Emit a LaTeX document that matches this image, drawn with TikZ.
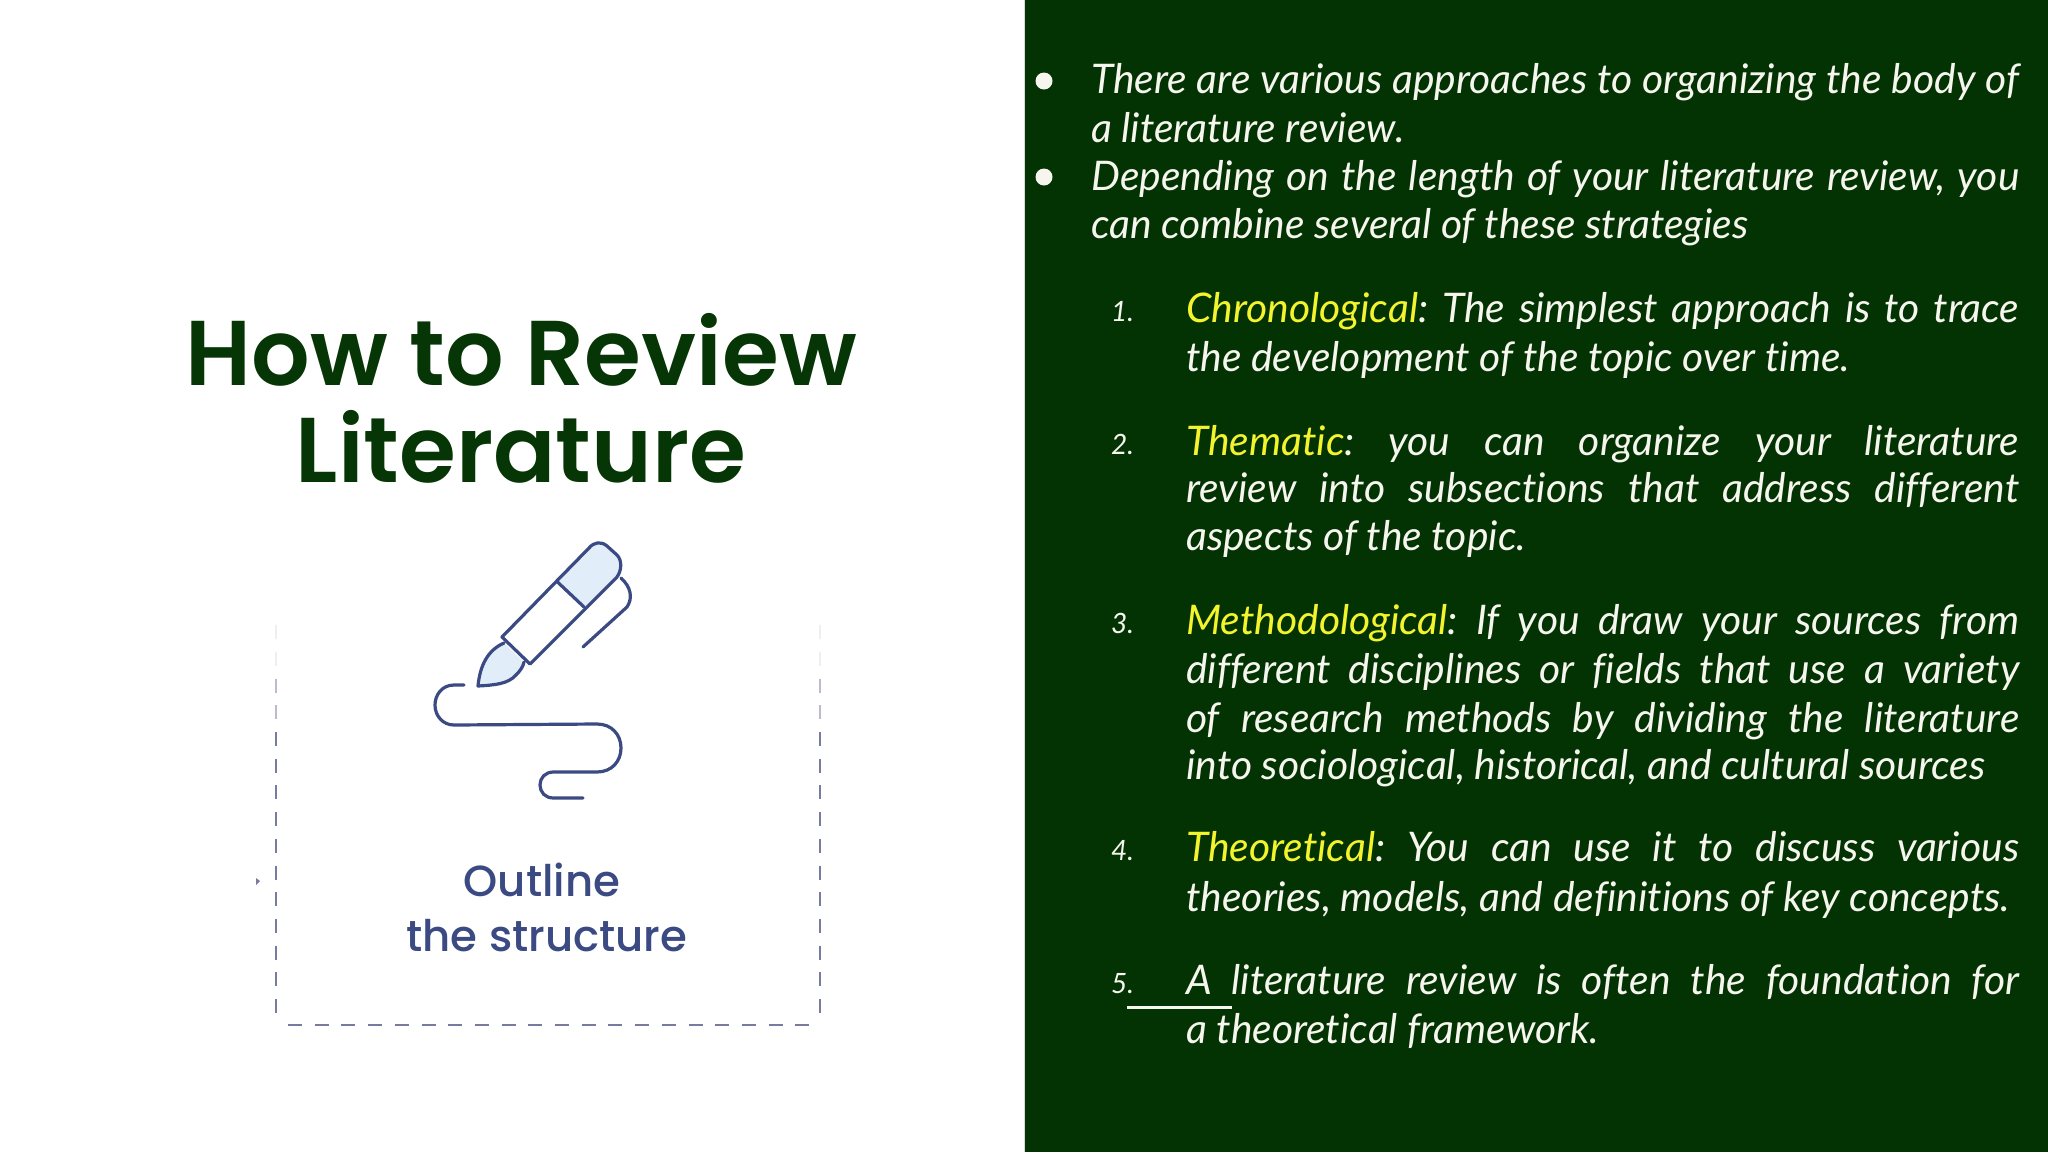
\documentclass[tikz,border=0pt]{standalone}
\usepackage{fontspec}
\setmainfont{Lato}[Ligatures=NoCommon]
\newfontfamily\titlefont{Poppins SemiBold}
\newfontfamily\iconfont{Poppins Medium}
\definecolor{panelgreen}{HTML}{033303}
\definecolor{titlegreen}{HTML}{063606}
\definecolor{hl}{HTML}{F4F42E}
\definecolor{ink}{HTML}{3B4A82}
\definecolor{dashc}{HTML}{777B9F}
\definecolor{fillc}{HTML}{E2EDFA}
\definecolor{bodyc}{HTML}{F6F6EE}
\newcommand{\hlw}[1]{\textcolor{hl}{#1}}
\newcommand{\jl}[3]{\node[bodyline] (#1) at (1186,#2) {\hbox to 833pt{#3}};}
\newcommand{\jb}[3]{\node[bodyline] (#1) at (1091,#2) {\hbox to 928pt{#3}};}
\newcommand{\nl}[3]{\node[bodyline] (#1) at (1186,#2) {#3};}
\newcommand{\nb}[3]{\node[bodyline] (#1) at (1091,#2) {#3};}
\frenchspacing
\begin{document}
\begin{tikzpicture}[x=1pt,y=-1pt,
  bodyline/.style={anchor=base west,inner sep=0pt,text=bodyc,font=\fontsize{40.8}{44}\selectfont\itshape\frenchspacing},
  numlabel/.style={anchor=base west,inner sep=0pt,text=bodyc,font=\fontsize{28}{30}\selectfont\itshape},
  titleline/.style={anchor=base,inner sep=0pt,text=titlegreen,font=\fontsize{92}{100}\titlefont\selectfont},
  iconline/.style={anchor=base,inner sep=0pt,text=ink,font=\fontsize{43.5}{48}\iconfont\selectfont},
  pen/.style={draw=ink,line width=3.2pt,line join=round,line cap=round},
  dashline/.style={draw=dashc,line width=2.8pt,dash pattern=on 14pt off 12.7pt}]
\useasboundingbox (0,0) rectangle (2048,1152);
\fill[white] (0,0) rectangle (2048,1152);
\fill[panelgreen] (1024,0) rectangle (2048,1152);
\draw[line width=1pt,color=black!15] (1024,0) -- (1024,1152);

% title
\node[titleline] (t1) at (521,385) {How to Review};
\node[titleline] (t2) at (521,482) {Literature};

% dashed frame
\draw[dashline,draw=dashc!12] (276,625) -- (276,677);
\draw[dashline,draw=dashc!12] (820,625) -- (820,677);
\draw[dashline,draw=dashc!50] (276,678.6) -- (276,730);
\draw[dashline,draw=dashc!50] (820,678.6) -- (820,730);
\draw[dashline] (276,732) -- (276,1014);
\draw[dashline] (820,732) -- (820,1014);
\draw[dashline] (288,1025) -- (809,1025);
\fill[dashc] (256,878) -- (260,881) -- (256,885) -- cycle;

% pen
\fill[fillc] (557.5,582) -- (589,548) .. controls (594,542) and (601,541) .. (607,546)
  -- (617,555) .. controls (622,560) and (622,570) .. (617,577) -- (584,607) -- cycle;
\draw[pen] (502,637) -- (589,548) .. controls (594,542) and (601,541) .. (607,546)
  -- (617,555) .. controls (622,560) and (622,570) .. (617,577) -- (530,664) -- cycle;
\draw[pen] (557.5,582) -- (584,607);
\draw[pen] (621,578) .. controls (631,587) and (633,598) .. (627,607) -- (583,647);
\draw[pen,fill=fillc] (504,643) .. controls (488,650) and (480,665) .. (478,686)
  .. controls (495,685) and (508,684) .. (516,675) .. controls (520,671) and (523,667) .. (524,662);
\draw[pen] (464,685) -- (454,685) .. controls (442,685) and (435,695) .. (435,705)
  .. controls (435,716) and (443,725) .. (454,725) -- (597,724)
  .. controls (612,724) and (621,735) .. (621,748)
  .. controls (621,761) and (612,772) .. (597,772) -- (553.5,772)
  .. controls (545,772) and (540,778) .. (540,785)
  .. controls (540,792) and (545,798) .. (553.5,798) -- (583,798);

\node[iconline] (o1) at (542,896) {Outline};
\node[iconline] (o2) at (547,951) {the structure};

% bullets
\fill[bodyc] (1044,81) circle (8.5);
\fill[bodyc] (1044,177) circle (8.5);
\jb{a1}{93}{There are various approaches to organizing the body of}
\nb{a2}{142}{a literature review.}
\jb{b1}{190}{Depending on the length of your literature review, you}
\nb{b2}{238}{can combine several of these strategies}

\node[numlabel] (n1) at (1111,321) {1.};
\jl{c1}{322}{\hlw{Chronological}: The simplest approach is to trace}
\nl{c2}{371}{the development of the topic over time.}

\node[numlabel] (n2) at (1111,454) {2.};
\jl{d1}{455}{\hlw{Thematic}: you can organize your literature}
\jl{d2}{502}{review into subsections that address different}
\nl{d3}{550}{aspects of the topic.}

\node[numlabel] (n3) at (1111,633) {3.};
\jl{e1}{634}{\hlw{Methodological}: If you draw your sources from}
\jl{e2}{683}{different disciplines or fields that use a variety}
\jl{e3}{732}{of research methods by dividing the literature}
\nl{e4}{779}{into sociological, historical, and cultural sources}

\node[numlabel] (n4) at (1111,860) {4.};
\jl{f1}{861}{\hlw{Theoretical}: You can use it to discuss various}
\nl{f2}{911}{theories, models, and definitions of key concepts.}

\node[numlabel] (n5) at (1111,993) {5.};
\jl{g1}{994}{A literature review is often the foundation for}
\nl{g2}{1043}{a theoretical framework.}
\coordinate (u1) at (1127,1007);
\coordinate (u2) at (1232,1007);
\draw[bodyc,line width=3pt] (u1) -- (u2);
\end{tikzpicture}
\end{document}
